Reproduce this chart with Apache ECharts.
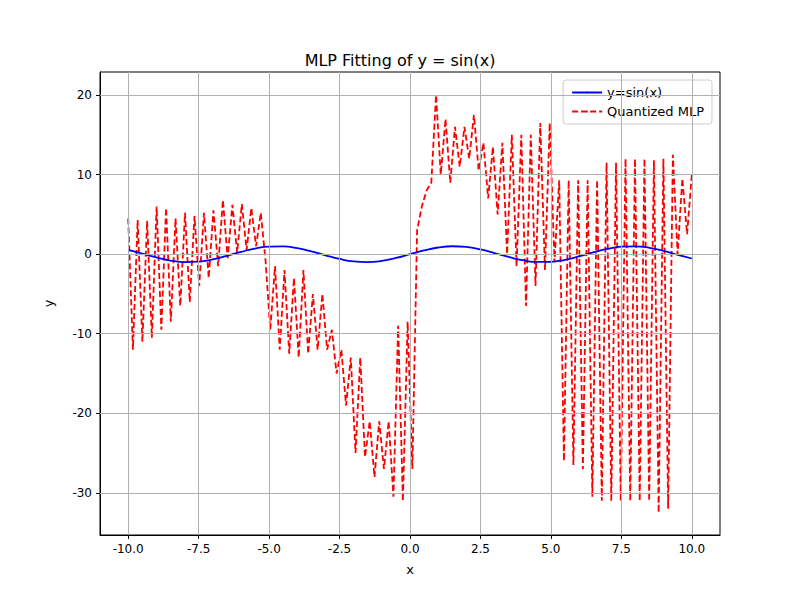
<!DOCTYPE html>
<html><head><meta charset="utf-8">
<script src="https://cdn.jsdelivr.net/npm/echarts@6/dist/echarts.min.js"></script>
<style>body{margin:0;background:#fff}#c{width:800px;height:600px}</style>
</head><body><div id="c"></div>
<script>
var sinX = [-10,-9.5,-9,-8.5,-8,-7.5,-7,-6.5,-6,-5.5,-5,-4.5,-4,-3.5,-3,-2.5,-2,-1.5,-1,-0.5,0,0.5,1,1.5,2,2.5,3,3.5,4,4.5,5,5.5,6,6.5,7,7.5,8,8.5,9,9.5,10];
var sinY = [0.544,0.075,-0.412,-0.798,-0.989,-0.938,-0.657,-0.215,0.279,0.706,0.959,0.978,0.757,0.351,-0.141,-0.598,-0.909,-0.997,-0.841,-0.479,0,0.479,0.841,0.997,0.909,0.598,0.141,-0.351,-0.757,-0.978,-0.959,-0.706,-0.279,0.215,0.657,0.938,0.989,0.798,0.412,-0.075,-0.544];
var mlpY = [
  4.5,-12,4.3,-11,4.2,-10.5,
  6,-9.5,5.8,-8.5,4.5,-6.5,
  5.2,-6,4.8,-4,5.2,-3,
  5.5,-1.5,6.8,-0.5,6.2,0.2,
  6.3,0.5,5.8,1,5.2,-0.8,
  -9.5,-1.5,-12,-2,-12.5,-3,
  -13,-2,-12.5,-5,-12,-5,
  -12,-9.5,-15,-12,-19,-13,
  -25,-13,-25.5,-21,-28,-21,
  -27,-21,-30.5,-9,-31,-8.5,
  -27,3,6,8,9,20,
  10,17,9,16,11,16,
  12,17.5,10.5,14,7,13.5,
  5,14,0,15,-1.5,15,
  -6.5,15,-4,16.5,-2,16.5,
  -1,9.3,-26,9.3,-26.5,9.3,
  -27,9.3,-30.5,9.3,-31,11.5,
  -31,11.5,-31,12,-31,12,
  -31,12,-31,11.8,-32.5,12,
  -32,12.5,0,9.5,2.5,10
];
var xTicks = [-10,-7.5,-5,-2.5,0,2.5,5,7.5,10];
var yTicks = [-30,-20,-10,0,10,20];

var mlpData = mlpY.map(function(v, i) { return [-10 + i * 20 / (mlpY.length - 1), v]; });
var sinData = sinX.map(function(x, i) { return [x, sinY[i]]; });

var chart = echarts.init(document.getElementById('c'), null, { renderer: 'svg' });
chart.setOption({
  animation: false,
  backgroundColor: '#fff',
  textStyle: { fontFamily: 'DejaVu Sans' },
  title: { text: 'MLP Fitting of y = sin(x)', left: 'center', top: 47,
    textStyle: { fontSize: 16, fontWeight: 'normal', color: '#000' } },
  legend: {
    right: 88, top: 80, orient: 'vertical', itemGap: 6,
    backgroundColor: '#fff', borderColor: '#ccc', borderWidth: 1, borderRadius: 3, padding: [6, 8],
    itemWidth: 30, itemHeight: 2,
    textStyle: { fontSize: 13, color: '#000' },
    data: ['y=sin(x)', 'Quantized MLP']
  },
  grid: { left: 100, right: 80, top: 72, bottom: 65, show: true, borderColor: '#000', borderWidth: 1 },
  xAxis: {
    type: 'value', min: -11, max: 11,
    name: 'x', nameLocation: 'middle', nameGap: 28, nameTextStyle: { fontSize: 13, color: '#000' },
    axisLine: { onZero: false, lineStyle: { color: '#000' } },
    axisTick: { customValues: xTicks, length: 4, lineStyle: { color: '#000' } },
    axisLabel: { customValues: xTicks, color: '#000', fontSize: 12, formatter: function(v) { return v.toFixed(1); } },
    splitLine: { show: false }
  },
  yAxis: {
    type: 'value', min: -35.3, max: 22.9,
    name: 'y', nameLocation: 'middle', nameGap: 45, nameTextStyle: { fontSize: 13, color: '#000' },
    axisLine: { show: true, onZero: false, lineStyle: { color: '#000' } },
    axisTick: { show: true, customValues: yTicks, length: 4, lineStyle: { color: '#000' } },
    axisLabel: { customValues: yTicks, color: '#000', fontSize: 12 },
    splitLine: { show: false }
  },
  series: [
    { name: 'y=sin(x)', type: 'line', smooth: true, symbol: 'none', data: sinData,
      lineStyle: { color: '#0000ff', width: 1.8 }, itemStyle: { color: '#0000ff' }, z: 3,
      markLine: { silent: true, symbol: 'none', label: { show: false }, lineStyle: { color: '#b0b0b0', width: 1, type: 'solid' },
        data: xTicks.map(function(t) { return { xAxis: t }; }).concat(yTicks.map(function(t) { return { yAxis: t }; })) } },
    { name: 'Quantized MLP', type: 'line', symbol: 'none', data: mlpData,
      lineStyle: { color: '#ff0000', width: 1.8, type: [6, 3] }, itemStyle: { color: '#ff0000' }, z: 2 }
  ]
});
</script></body></html>
